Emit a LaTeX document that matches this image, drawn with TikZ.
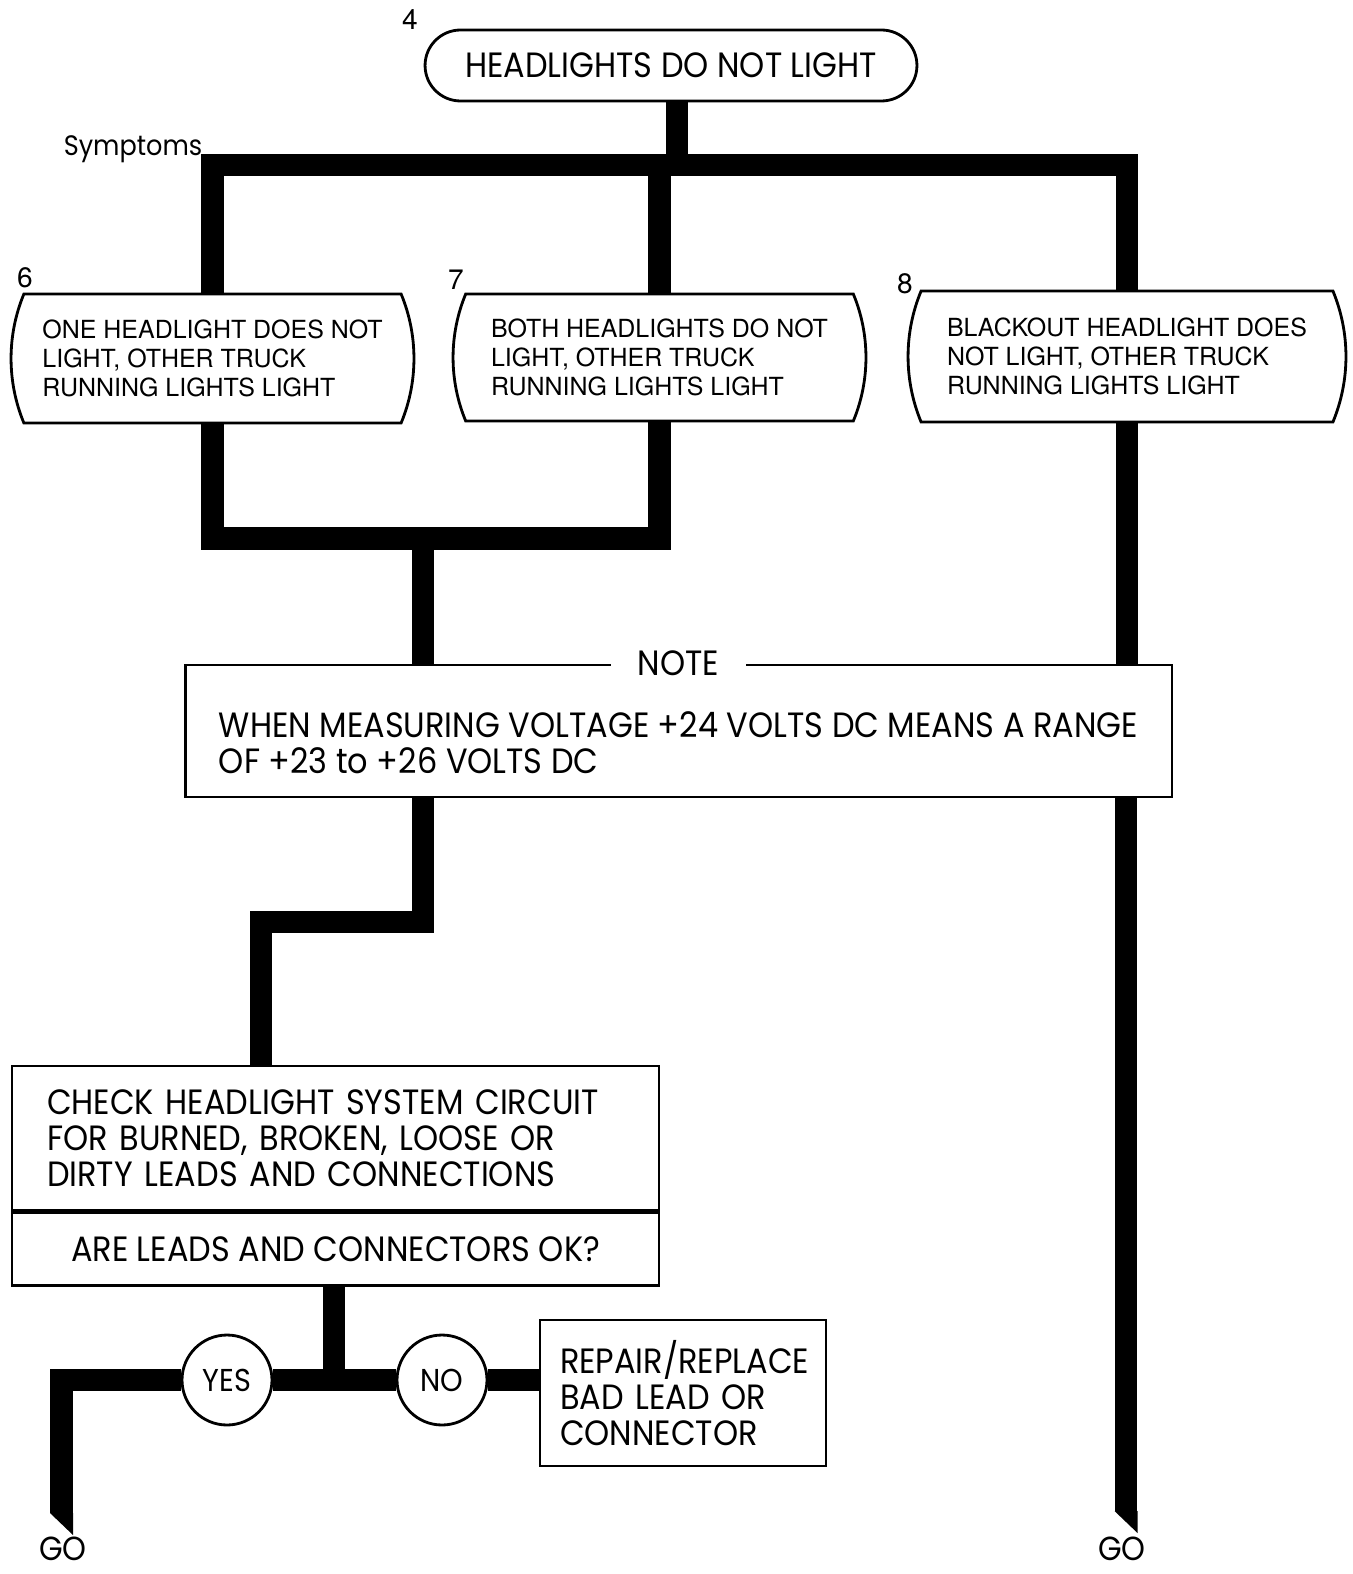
\documentclass[tikz,border=0pt]{standalone}
\usepackage{fontspec}
\usepackage{tikz}
\usetikzlibrary{positioning, calc, shapes.misc}
\newfontfamily\futura[FakeStretch=0.91]{Poppins}
\newfontfamily\helv{TeX Gyre Heros}

\begin{document}
\begin{tikzpicture}[x=0.02cm, y=-0.02cm,
    flow/.style={line width=13pt},
    box/.style={draw, line width=1.6pt, inner sep=0pt},
    symptom/.style={box, rounded rectangle, rounded rectangle arc length=45, align=left, font=\helv\fontsize{14.2}{16.7}\selectfont},
    bigtext/.style={font=\futura\fontsize{20}{20.5}\selectfont},
    tag/.style={font=\helv\fontsize{16}{16}\selectfont, inner sep=0pt},
    answer/.style={box, circle, fill=white, minimum size=1.8cm, font=\futura\fontsize{18}{18}\selectfont}]
    \useasboundingbox (0,0) rectangle (1352,1574);

    % Fault
    \node[box, rounded rectangle, minimum width=9.84cm, minimum height=1.42cm, bigtext] (top) at (671,65.5) {HEADLIGHTS DO NOT LIGHT};
    \node[tag] (n4) at (410,20) {4};
    \node[font=\futura\fontsize{16}{16}\selectfont, inner sep=0pt] (symlbl) at (133,149) {Symptoms};

    % Symptoms
    \node[symptom, minimum width=8.06cm, minimum height=2.58cm] (sym6) at (212.5,358.5) {ONE HEADLIGHT DOES NOT\\LIGHT, OTHER TRUCK\\RUNNING LIGHTS LIGHT};
    \node[symptom, minimum width=8.26cm, minimum height=2.54cm] (sym7) at (659.5,357.5) {BOTH HEADLIGHTS DO NOT\\LIGHT, OTHER TRUCK\\RUNNING LIGHTS LIGHT};
    \node[symptom, minimum width=8.76cm, minimum height=2.62cm] (sym8) at (1127,356.5) {BLACKOUT HEADLIGHT DOES\\NOT LIGHT, OTHER TRUCK\\RUNNING LIGHTS LIGHT};
    \node[tag] (n6) at (25,278) {6};
    \node[tag] (n7) at (456,280) {7};
    \node[tag] (n8) at (905,284) {8};

    % Note
    \node[box, minimum width=19.74cm, minimum height=2.64cm] (note) at (678.5,731) {};
    \node[bigtext, align=left, inner sep=0pt] (notetxt) at (678.5,743) {WHEN MEASURING VOLTAGE +24 VOLTS DC MEANS A RANGE\\OF +23 to +26 VOLTS DC};
    \node[bigtext, fill=white, inner xsep=0.54cm, inner ysep=2pt] (notehead) at (note.north) {NOTE};

    % Check
    \node[box, bigtext, text width=11.54cm, inner xsep=0.7cm, minimum height=2.88cm, align=left] (checktext) at (335.5,1138) {CHECK HEADLIGHT SYSTEM CIRCUIT\\FOR BURNED, BROKEN, LOOSE OR\\DIRTY LEADS AND CONNECTIONS};
    \node[box, bigtext, minimum width=12.94cm, minimum height=1.46cm, below=0pt of checktext] (checkq) {ARE LEADS AND CONNECTORS OK?};

    % Answers
    \node[answer] (yes) at (227,1380) {YES};
    \node[answer] (no) at (442,1380) {NO};
    \node[box, bigtext, text width=4.92cm, inner xsep=0.4cm, minimum height=2.92cm, align=left] (repair) at (683,1393) {REPAIR/REPLACE\\BAD LEAD OR\\CONNECTOR};
    \node[font=\futura\fontsize{19}{19}\selectfont, inner sep=0pt] (goleft) at (63,1549) {GO};
    \node[font=\futura\fontsize{19}{19}\selectfont, inner sep=0pt] (goright) at (1122,1549) {GO};

    % Bends and ends
    \coordinate (bus) at (0,165);
    \coordinate (stem) at (677,0);
    \coordinate (merge) at (423,538.5);
    \coordinate (jog) at (261,922);
    \coordinate (tee) at (334,1380);
    \coordinate (endL) at (61.5,1513);
    \coordinate (endR) at (1126,1511);

    % Flow lines
    \draw[flow] (top.south -| stem) -- (bus -| stem);
    \draw[flow] (sym6.north) |- (bus -| sym8.north) -- (sym8.north);
    \draw[flow] (sym7.north) -- (sym7.north |- bus);
    \draw[flow] (sym6.south) |- (merge -| sym7.south) -- (sym7.south);
    \draw[flow] (merge) -- (note.north -| merge);
    \draw[flow] (sym8.south) -- (note.north -| sym8.south);
    \draw[flow] (note.south -| endR) -- (endR);
    \fill ($(endR)+(-11.5,0)$) -- ++(23,0) -- ++(0,22) -- cycle;
    \draw[flow] (note.south -| merge) |- (jog) -- (checktext.north -| jog);
    \draw[flow] (checkq.south -| tee) -- (tee);
    \draw[flow] (yes.east) -- (no.west);
    \draw[flow] (no.east) -- (no.east -| repair.west);
    \draw[flow] (yes.west) -| (endL);
    \fill ($(endL)+(-11.5,0)$) -- ++(23,0) -- ++(0,22) -- cycle;
\end{tikzpicture}
\end{document}
